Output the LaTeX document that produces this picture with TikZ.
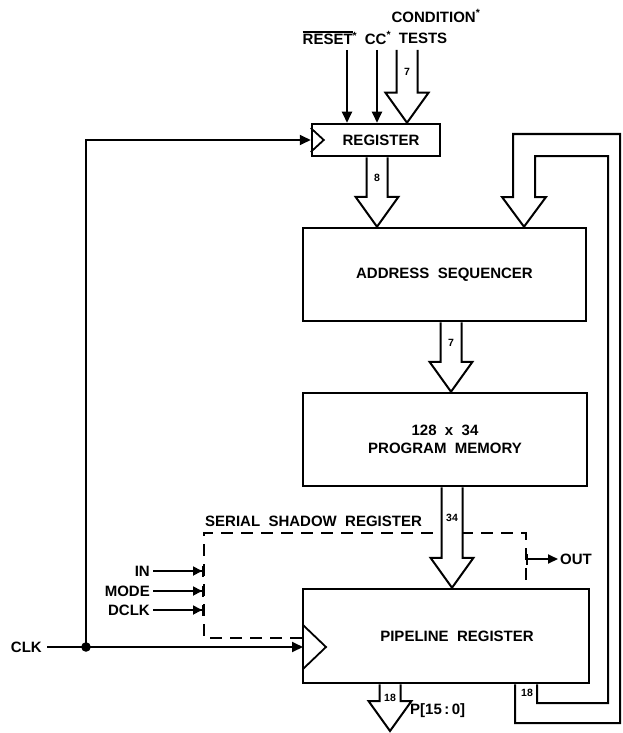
\documentclass[tikz,border=0pt]{standalone}
\usepackage{fontspec}
\setmainfont{Liberation Sans}
\usetikzlibrary{arrows.meta,calc}
\newcommand\myovl[1]{\leavevmode\vbox{\hrule height 1.6pt\kern1.6pt\hbox{#1}}}
\newcommand\fatbus[3]{%
  \draw[bus] let \p1=#1, \p2=#2 in
    ({\x1-10.5pt},\y1) -- ({\x1-10.5pt},{\y2+30pt}) -- ({\x1-21.5pt},{\y2+30pt})
    -- (\x2,\y2) -- ({\x1+21.5pt},{\y2+30pt}) -- ({\x1+10.5pt},{\y2+30pt})
    -- ({\x1+10.5pt},\y1);
  \node[num] at ($#1!0.3!#2$) {#3};
}
\begin{document}
\begin{tikzpicture}[x=1pt,y=-1pt,
  font=\fontsize{15}{18}\selectfont\bfseries,
  blk/.style={draw,line width=2.5pt,rectangle,inner sep=0pt},
  wire/.style={line width=1.8pt},
  arr/.style={wire,-{Triangle[length=11pt,width=10pt]}},
  bararr/.style={wire,-{Triangle[length=9pt,width=9pt]Bar[width=11pt,line width=2pt]}},
  bus/.style={line width=2pt,fill=white,line join=miter},
  loopbus/.style={line width=2pt,line join=miter},
  num/.style={font=\fontsize{10.5}{12}\selectfont\bfseries,inner sep=0pt},
  lbl/.style={inner sep=0pt},
  dsh/.style={line width=1.8pt,dash pattern=on 12pt off 8pt}
]
\useasboundingbox (0,0) rectangle (622,733);

% blocks
\node[blk,minimum width=128pt,minimum height=32pt] (reg) at (376,140) {\hspace*{10pt}REGISTER};
\node[blk,minimum width=283pt,minimum height=93pt] (seq) at (444.5,274.5) {ADDRESS\ \ SEQUENCER};
\node[blk,minimum width=284pt,minimum height=93pt,align=center] (mem) at (445,439.5) {128\ \ x\ \ 34\\PROGRAM\ \ MEMORY};
\node[blk,minimum width=286pt,minimum height=94pt] (pipe) at (446,636) {\hspace*{22pt}PIPELINE\ \ REGISTER};

% top labels
\node[lbl] (rstlbl) at (330,38) {\myovl{RESET}\textsuperscript{*}};
\node[lbl] (cclbl) at (378,38) {CC\textsuperscript{*}};
\node[lbl] (tstlbl) at (423,38) {TESTS};
\node[lbl] (condlbl) at (436,16) {CONDITION\textsuperscript{*}};

\coordinate (rstsrc) at (347,50);
\coordinate (ccsrc) at (377,50);
\coordinate (condsrc) at (407,50);
\draw[arr] (rstsrc) -- (reg.north -| rstsrc);
\draw[arr] (ccsrc) -- (reg.north -| ccsrc);
\fatbus{(condsrc)}{(reg.north -| condsrc)}{7}

% register clock triangle
\draw[wire] ([yshift=12pt]reg.west) -- ([xshift=13pt]reg.west) -- ([yshift=-12pt]reg.west);

% buses
\coordinate (b1) at (377,0);
\fatbus{(reg.south -| b1)}{(seq.north -| b1)}{8}
\coordinate (b2) at (451,0);
\fatbus{(seq.south -| b2)}{(mem.north -| b2)}{7}
\coordinate (b3) at (452,0);

% serial shadow register (dashed)
\coordinate (sbl) at (204,638);
\coordinate (stl) at (204,533);
\coordinate (str) at (526,533);
\draw[dsh] (pipe.west |- sbl) -- (sbl) -- (stl) -- (str) -- (pipe.north -| str);
\node[lbl,anchor=south west] (ssr) at (205,527) {SERIAL\ \ SHADOW\ \ REGISTER};

\fatbus{(mem.south -| b3)}{(pipe.north -| b3)}{34}

% OUT
\coordinate (outsrc) at (526,559);
\node[lbl,anchor=west,inner sep=2pt] (outlbl) at (558,559) {OUT};
\draw[wire,{Bar[width=11pt,line width=2pt]}-{Triangle[length=10pt,width=9pt]}] (outsrc) -- (outlbl.west);

% serial inputs
\node[lbl,anchor=east,inner sep=3pt] (inlbl) at (153,571) {IN};
\node[lbl,anchor=east,inner sep=3pt] (modelbl) at (153,591) {MODE};
\node[lbl,anchor=east,inner sep=3pt] (dclklbl) at (153,610) {DCLK};
\draw[bararr] (inlbl.east) -- (inlbl.east -| stl);
\draw[bararr] (modelbl.east) -- (modelbl.east -| stl);
\draw[bararr] (dclklbl.east) -- (dclklbl.east -| stl);

% clock
\coordinate (junc) at (86,647);
\coordinate (pclk) at (303,647);
\node[lbl,anchor=east] (clklbl) at (42,647) {CLK};
\draw[wire] ([xshift=5pt]clklbl.east) -- (junc);
\draw[arr] (junc) -- (pclk);
\draw[arr] (junc) -- (junc |- reg.west) -- (reg.west);
\fill (junc) circle (4.8pt);
\draw[wire] ([yshift=22pt]pclk) -- ([xshift=23pt]pclk) -- ([yshift=-22pt]pclk);

% output bus
\coordinate (pb) at (390,731);
\fatbus{(pipe.south -| pb)}{(pb)}{\raisebox{-4pt}{18}}
\node[lbl,anchor=west] (plbl) at (410,711) {P[15\,:\,0]};

% feedback loop
\coordinate (fb1) at (515,0);
\coordinate (fb2) at (537,0);
\coordinate (fbt) at (524,0);
\draw[loopbus] (pipe.south -| fb1) -- (515,723) -- (620,723) -- (620,134) -- (513,134)
  -- (513,197) -- (502,197) -- (seq.north -| fbt) -- (546,197) -- (535,197)
  -- (535,156) -- (608,156) -- (608,703) -- (537,703) -- (pipe.south -| fb2);
\node[num] (fblbl) at (527,693) {18};
\end{tikzpicture}
\end{document}
